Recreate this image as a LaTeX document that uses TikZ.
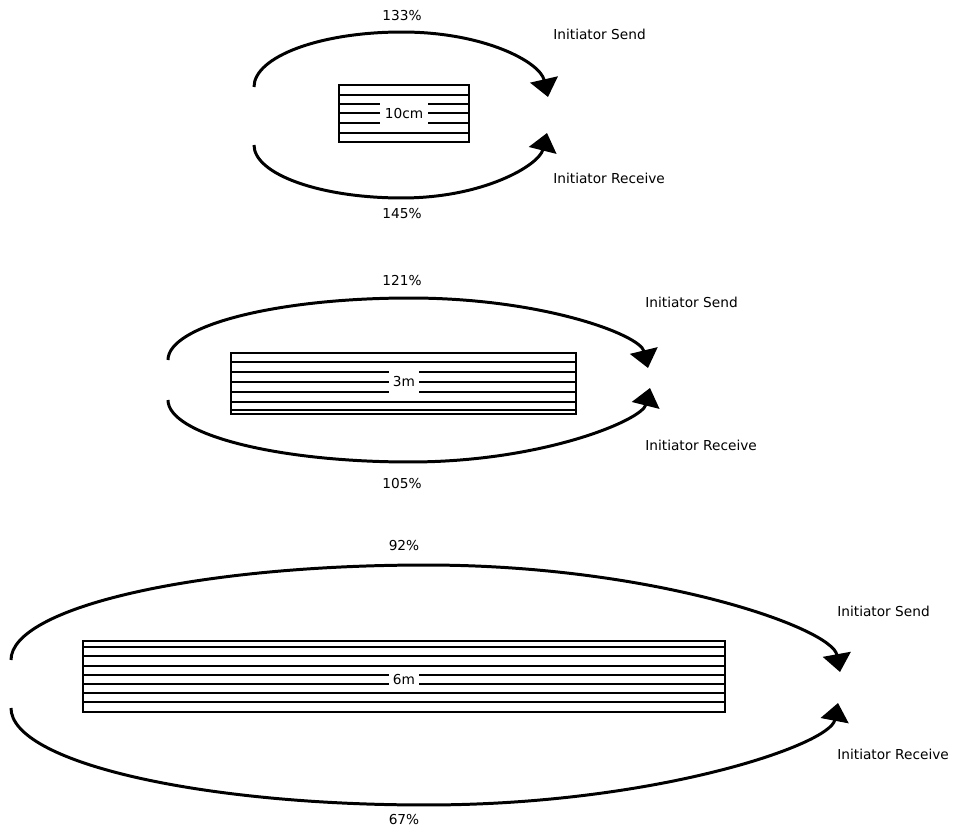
\documentclass[tikz,border=0pt]{standalone}
\usepackage{fontspec}
\setmainfont{DejaVu Sans}
\usetikzlibrary{arrows.meta}

\begin{document}
\begin{tikzpicture}[
    x=0.02cm, y=-0.02cm,
    flow/.style={line width=1.7pt, -{Triangle[length=0.36cm, width=0.56cm]}},
    cable/.style={draw, line width=1.3pt},
    lengthLabel/.style={fill=white, inner xsep=2.5pt, inner ysep=0pt, font=\fontsize{7.8}{9}\selectfont},
    labelStyle/.style={font=\fontsize{7.8}{9}\selectfont, inner sep=0pt}
]
\useasboundingbox (0,0) rectangle (953,831);

% ----------------------------------------------------
% 10cm cable
% ----------------------------------------------------
\draw[cable] (339,85) rectangle (469,142);
\draw[cable] (339,95) -- (469,95) (339,104) -- (469,104) (339,113) -- (469,113)
    (339,123) -- (469,123) (339,133) -- (469,133);
\node[lengthLabel, minimum height=0.46cm] (len1) at (404,114) {10cm};

\coordinate (send1) at (254,87);
\coordinate (send1tip) at (548,97);
\coordinate (recv1) at (254,145);
\coordinate (recv1tip) at (547,133);
\draw[flow] (send1) arc[start angle=180, end angle=90, x radius=2.96cm, y radius=1.1cm]
    .. controls (484,32) and (540,62) .. (send1tip);
\draw[flow] (recv1) arc[start angle=180, end angle=270, x radius=2.96cm, y radius=1.06cm]
    .. controls (484,198) and (539,165) .. (recv1tip);

\node[labelStyle] (top1) at (402,16) {133\%};
\node[labelStyle] (bot1) at (402,214) {145\%};
\node[labelStyle, anchor=west] (isend1) at (553,34) {Initiator Send};
\node[labelStyle, anchor=west] (irecv1) at (553,178) {Initiator Receive};

% ----------------------------------------------------
% 3m cable
% ----------------------------------------------------
\draw[cable] (231,353) rectangle (576,414);
\draw[cable] (231,362) -- (576,362) (231,372) -- (576,372) (231,382) -- (576,382)
    (231,392) -- (576,392) (231,402) -- (576,402) (231,410) -- (576,410);
\node[lengthLabel, minimum height=0.46cm] (len2) at (404,382) {3m};

\coordinate (send2) at (168,360);
\coordinate (send2tip) at (648,368);
\coordinate (recv2) at (168,400);
\coordinate (recv2tip) at (650,388);
\draw[flow] (send2) arc[start angle=180, end angle=90, x radius=4.84cm, y radius=1.24cm]
    .. controls (543,298) and (640,335) .. (send2tip);
\draw[flow] (recv2) arc[start angle=180, end angle=270, x radius=4.84cm, y radius=1.24cm]
    .. controls (543,462) and (642,420) .. (recv2tip);

\node[labelStyle] (top2) at (402,281) {121\%};
\node[labelStyle] (bot2) at (402,484) {105\%};
\node[labelStyle, anchor=west] (isend2) at (645,302) {Initiator Send};
\node[labelStyle, anchor=west] (irecv2) at (645,445) {Initiator Receive};

% ----------------------------------------------------
% 6m cable
% ----------------------------------------------------
\draw[cable] (83,641) rectangle (725,712);
\draw[cable] (83,647) -- (725,647) (83,656) -- (725,656) (83,666) -- (725,666)
    (83,675) -- (725,675) (83,684) -- (725,684) (83,693) -- (725,693) (83,702) -- (725,702);
\node[lengthLabel, minimum height=0.4cm] (len3) at (404,680) {6m};

\coordinate (send3) at (11,660);
\coordinate (send3tip) at (840,672);
\coordinate (recv3) at (11,708);
\coordinate (recv3tip) at (838,703);
\draw[flow] (send3) arc[start angle=180, end angle=90, x radius=8.3cm, y radius=1.9cm]
    .. controls (654,565) and (832,628) .. (send3tip);
\draw[flow] (recv3) arc[start angle=180, end angle=270, x radius=8.3cm, y radius=1.94cm]
    .. controls (654,805) and (830,745) .. (recv3tip);

\node[labelStyle] (top3) at (404,546) {92\%};
\node[labelStyle] (bot3) at (404,820) {67\%};
\node[labelStyle, anchor=west] (isend3) at (837,611) {Initiator Send};
\node[labelStyle, anchor=west] (irecv3) at (837,754) {Initiator Receive};

\end{tikzpicture}
\end{document}
